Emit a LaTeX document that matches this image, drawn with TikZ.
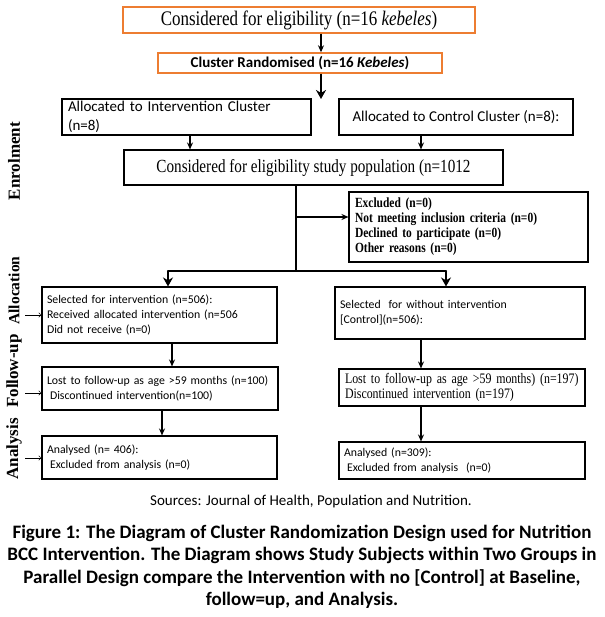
\documentclass[tikz,border=0pt]{standalone}
\usepackage{fontspec}
\setmainfont{Liberation Serif}
\newfontfamily\calibri{Carlito}
\newfontfamily\timesnarrow[FakeStretch=0.82]{Liberation Serif}
\definecolor{boxorange}{RGB}{237,125,49}
\usetikzlibrary{arrows.meta, positioning, calc}

\begin{document}
\begin{tikzpicture}[x=1pt, y=-1pt,
  box/.style={draw, line width=1.1pt, inner xsep=6pt, inner ysep=0pt},
  obox/.style={draw=boxorange, line width=1.4pt, inner sep=0pt},
  thinarrow/.style={-{Stealth[length=7pt,width=6pt]}, line width=1.1pt},
  thickarrow/.style={-{Stealth[length=9pt,width=10pt]}, line width=2.4pt},
  sidearrow/.style={-{To[length=3pt,width=5pt]}, line width=0.5pt},
  sidelabel/.style={rotate=90, font=\fontsize{17}{17}\selectfont\bfseries},
  smalltxt/.style={font=\calibri\fontsize{11.8}{15}\selectfont, align=left, inner xsep=5pt}
]
  \useasboundingbox (0,0) rectangle (604,617);

  % Clusters
  \node[obox, minimum width=352pt, minimum height=26pt, font=\timesnarrow\fontsize{20.7}{22}\selectfont] (cons) at (299,20) {Considered for eligibility (n=16 \textit{kebeles})};
  \node[obox, minimum width=284pt, minimum height=20pt, font=\calibri\bfseries\fontsize{15}{16}\selectfont] (rand) at (300,63) {Cluster Randomised (n=16 \textit{Kebeles})};
  \coordinate (split) at (321,99);

  \draw[thinarrow] (cons.south -| split) -- (rand.north -| split);
  \draw[thickarrow] (rand.south -| split) -- (split);

  % Allocated clusters
  \node[box, text width=237pt, minimum height=36pt, align=left, font=\calibri\fontsize{15}{19}\selectfont] (allocint) at (186.5,117) {Allocated to Intervention Cluster\\(n=8)};
  \node[box, minimum width=234pt, minimum height=36pt, font=\calibri\fontsize{15}{19}\selectfont] (allocctl) at (456,117) {Allocated to Control Cluster (n=8):};

  % Study population
  \node[box, minimum width=379pt, minimum height=35pt, font=\timesnarrow\fontsize{18.5}{20}\selectfont] (elig) at (313.5,167.5) {Considered for eligibility study population (n=1012};

  \draw[thinarrow] ([xshift=3.5pt]allocint.south) -- ([xshift=3.5pt]allocint.south |- elig.north);
  \draw[thinarrow] ([xshift=-35pt]allocctl.south) -- ([xshift=-35pt]allocctl.south |- elig.north);

  % Excluded
  \node[box, text width=227pt, minimum height=70pt, align=left, inner xsep=6pt, font=\timesnarrow\bfseries\fontsize{14}{15}\selectfont] (excl) at (468.5,227) {Excluded (n=0)\\Not meeting inclusion criteria (n=0)\\Declined to participate (n=0)\\Other reasons (n=0)};

  \coordinate (trunk) at (296,271);
  \coordinate (exbr) at (296,217);
  \coordinate (brl) at (168,271);
  \coordinate (brr) at (446,271);
  \draw[line width=1.6pt] (elig.south -| trunk) -- (trunk);
  \draw[thinarrow] (exbr) -- (exbr -| excl.west);

  % Allocation
  \node[box, smalltxt, text width=225pt, minimum height=56pt] (selint) at (159.5,315) {Selected for intervention (n=506):\\Received allocated intervention (n=506\\Did not receive (n=0)};
  \node[box, smalltxt, text width=240pt, minimum height=52pt] (selctl) at (460,313) {Selected\ \ for without intervention\\{[}Control{]}(n=506):};

  \draw[line width=2.4pt, line cap=round] (brl) -- (brr);
  \draw[thickarrow] (brl) -- (brl |- selint.north);
  \draw[thickarrow] (brr) -- (brr |- selctl.north);

  % Follow-up
  \node[box, smalltxt, text width=226pt, minimum height=43pt] (lostint) at (160,388.5) {Lost to follow-up as age >59 months (n=100)\\\hspace*{3pt}Discontinued intervention(n=100)};
  \node[box, text width=234pt, minimum height=37pt, align=left, font=\timesnarrow\fontsize{14.5}{14.5}\selectfont] (lostctl) at (462,387.5) {Lost to follow-up as age >59 months) (n=197)\\Discontinued intervention (n=197)};

  \draw[thinarrow] ([xshift=12.5pt]selint.south) -- ([xshift=12.5pt]selint.south |- lostint.north);
  \draw[thinarrow] ([xshift=-39pt]selctl.south) -- ([xshift=-39pt]selctl.south |- lostctl.north);

  % Analysis
  \node[box, smalltxt, text width=225pt, minimum height=43pt] (anaint) at (159.5,457.5) {Analysed (n= 406):\\\hspace*{3pt}Excluded from analysis (n=0)};
  \node[box, smalltxt, text width=236pt, minimum height=37pt] (anactl) at (462,460.5) {Analysed (n=309):\\\hspace*{3pt}Excluded from analysis\ \ (n=0)};

  \draw[thinarrow] ([xshift=2pt]lostint.south) -- ([xshift=2pt]lostint.south |- anaint.north);
  \draw[thinarrow] ([xshift=-41pt]lostctl.south) -- ([xshift=-41pt]lostctl.south |- anactl.north);

  % Phase labels
  \node[sidelabel] (lblenrol) at (14,161) {Enrolment};
  \node[sidelabel, font=\fontsize{15.5}{15.5}\selectfont\bfseries] (lblalloc) at (14,290.5) {Allocation};
  \node[sidelabel] (lblfollow) at (14,371) {Follow-up};
  \node[sidelabel] (lblana) at (14,449) {Analysis};

  \coordinate (sa1) at (25,315);
  \coordinate (sa2) at (25,393);
  \coordinate (sa3) at (25,458);
  \draw[sidearrow] (sa1) -- (sa1 -| selint.west);
  \draw[sidearrow] (sa2) -- (sa2 -| lostint.west);
  \draw[sidearrow] (sa3) -- (sa3 -| anaint.west);

  % Source and caption
  \node[font=\calibri\fontsize{15}{16}\selectfont] (source) at (311,501) {Sources: Journal of Health, Population and Nutrition.};
  \node[align=center, font=\calibri\bfseries\fontsize{19}{22.5}\selectfont] (caption) at (302,567) {Figure 1: The Diagram of Cluster Randomization Design used for Nutrition\\BCC Intervention. The Diagram shows Study Subjects within Two Groups in\\Parallel Design compare the Intervention with no [Control] at Baseline,\\follow=up, and Analysis.};
\end{tikzpicture}
\end{document}
